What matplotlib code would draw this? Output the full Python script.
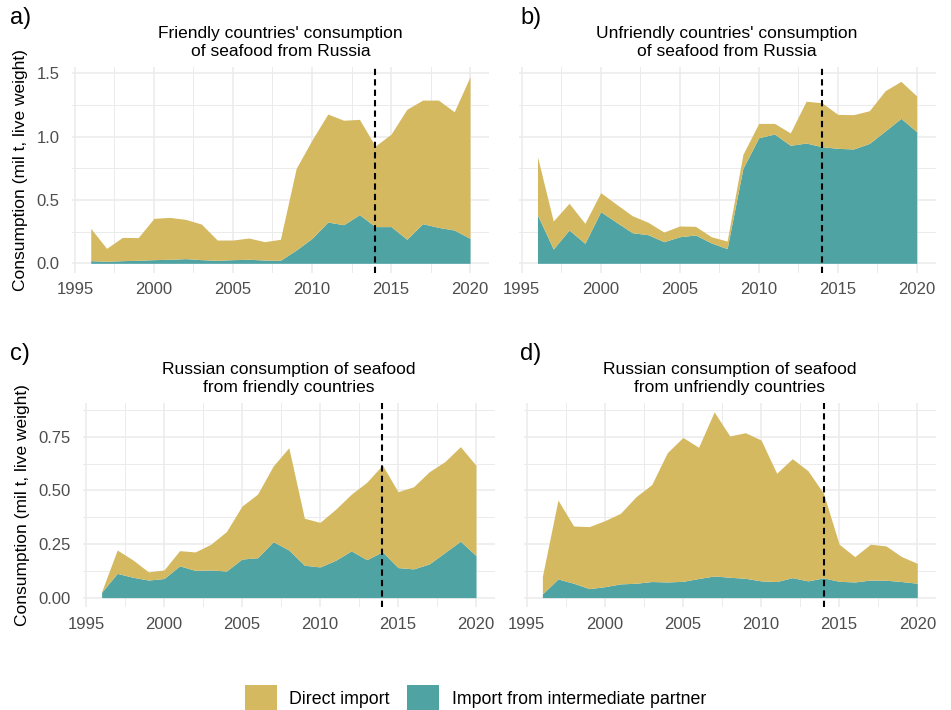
import numpy as np
import matplotlib
matplotlib.use("Agg")
import matplotlib.pyplot as plt
from matplotlib.patches import Patch
from matplotlib.ticker import MultipleLocator, FormatStrFormatter

plt.rcParams['font.family'] = ['Liberation Sans', 'DejaVu Sans']

years = list(range(1996, 2021))

# totals (direct + intermediate) and the intermediate part, mil t live weight
friendly_from_ru_total = [0.276, 0.118, 0.205, 0.203, 0.355, 0.363, 0.347, 0.310, 0.184, 0.184,
                          0.200, 0.171, 0.190, 0.750, 0.974, 1.179, 1.130, 1.137, 0.926, 1.020,
                          1.216, 1.289, 1.289, 1.197, 1.474]
friendly_from_ru_inter = [0.021, 0.016, 0.021, 0.024, 0.029, 0.032, 0.037, 0.029, 0.024, 0.029,
                          0.032, 0.026, 0.024, 0.105, 0.197, 0.326, 0.305, 0.384, 0.290, 0.290,
                          0.190, 0.313, 0.284, 0.263, 0.197]

unfriendly_from_ru_total = [0.842, 0.334, 0.474, 0.316, 0.558, 0.466, 0.376, 0.324, 0.247, 0.295,
                            0.292, 0.210, 0.176, 0.860, 1.105, 1.105, 1.030, 1.280, 1.268, 1.176,
                            1.174, 1.205, 1.363, 1.437, 1.321]
unfriendly_from_ru_inter = [0.382, 0.113, 0.263, 0.158, 0.408, 0.324, 0.242, 0.226, 0.171, 0.210,
                            0.224, 0.161, 0.116, 0.750, 0.992, 1.021, 0.932, 0.950, 0.921, 0.908,
                            0.903, 0.947, 1.045, 1.145, 1.039]

ru_from_friendly_total = [0.028, 0.222, 0.176, 0.120, 0.129, 0.219, 0.213, 0.249, 0.308, 0.427,
                          0.483, 0.614, 0.699, 0.370, 0.351, 0.412, 0.482, 0.538, 0.618, 0.494,
                          0.517, 0.587, 0.634, 0.704, 0.617]
ru_from_friendly_inter = [0.025, 0.113, 0.095, 0.082, 0.089, 0.148, 0.127, 0.129, 0.124, 0.180,
                          0.186, 0.261, 0.222, 0.151, 0.143, 0.174, 0.218, 0.177, 0.214, 0.140,
                          0.134, 0.157, 0.210, 0.263, 0.196]

ru_from_unfriendly_total = [0.098, 0.455, 0.334, 0.331, 0.359, 0.393, 0.471, 0.527, 0.676, 0.747,
                            0.701, 0.866, 0.754, 0.769, 0.735, 0.580, 0.648, 0.592, 0.486, 0.249,
                            0.191, 0.249, 0.241, 0.191, 0.160]
ru_from_unfriendly_inter = [0.017, 0.087, 0.067, 0.042, 0.051, 0.064, 0.067, 0.075, 0.073, 0.076,
                            0.089, 0.101, 0.095, 0.090, 0.078, 0.075, 0.093, 0.078, 0.092, 0.076,
                            0.073, 0.082, 0.081, 0.075, 0.067]

titles = ["Friendly countries' consumption\nof seafood from Russia",
          "Unfriendly countries' consumption\nof seafood from Russia",
          "Russian consumption of seafood\nfrom friendly countries",
          "Russian consumption of seafood\nfrom unfriendly countries"]
tags = ["a)", "b)", "c)", "d)"]
sanction_year = 2014

GOLD = "#D4B960"
TEAL = "#4FA3A3"
GRID = "#EBEBEB"

W, H = 951, 710
fig = plt.figure(figsize=(W / 100, H / 100), dpi=100)


def add_panel(l, t, r, b):
    return fig.add_axes([l / W, 1 - b / H, (r - l) / W, (b - t) / H])


panels = [
    (add_panel(71.8, 67.3, 489, 272.7), friendly_from_ru_total, friendly_from_ru_inter),
    (add_panel(518.5, 67.3, 935.7, 272.7), unfriendly_from_ru_total, unfriendly_from_ru_inter),
    (add_panel(82.9, 402.7, 494.7, 606.9), ru_from_friendly_total, ru_from_friendly_inter),
    (add_panel(523.6, 402.7, 936, 606.9), ru_from_unfriendly_total, ru_from_unfriendly_inter),
]

for i, (ax, total, inter) in enumerate(panels):
    total = np.array(total)
    inter = np.array(inter)
    ax.fill_between(years, 0, inter, color=TEAL, lw=0, zorder=2)
    ax.fill_between(years, inter, total, color=GOLD, lw=0, zorder=2)
    ax.axvline(sanction_year, color="black", lw=1.5, ls=(0, (3, 2)), zorder=3)

    ax.set_xlim(1994.8, 2021.2)
    ax.xaxis.set_major_locator(MultipleLocator(5))
    ax.xaxis.set_minor_locator(MultipleLocator(2.5))
    if i < 2:
        ax.set_ylim(-0.074, 1.548)
        ax.yaxis.set_major_locator(MultipleLocator(0.5))
        ax.yaxis.set_minor_locator(MultipleLocator(0.25))
        ax.yaxis.set_major_formatter(FormatStrFormatter("%.1f"))
    else:
        ax.set_ylim(-0.0433, 0.909)
        ax.yaxis.set_major_locator(MultipleLocator(0.25))
        ax.yaxis.set_minor_locator(MultipleLocator(0.125))
        ax.yaxis.set_major_formatter(FormatStrFormatter("%.2f"))

    ax.grid(which="major", color=GRID, lw=1.1, zorder=0)
    ax.grid(which="minor", color=GRID, lw=0.7, zorder=0)
    ax.set_axisbelow(True)
    for s in ax.spines.values():
        s.set_visible(False)
    ax.tick_params(which="both", length=0, labelsize=12, colors="#4D4D4D", pad=7)
    ax.tick_params(axis="y", pad=9)
    if i % 2 == 1:
        ax.tick_params(axis="y", labelleft=False)
    else:
        ax.set_ylabel("Consumption (mil t, live weight)", fontsize=12.5, labelpad=6)

    ax.set_title(titles[i], fontsize=12.5, pad=8, linespacing=1.25)
    pos = ax.get_position()
    tag_x = 10 / W if i % 2 == 0 else 520 / W
    fig.text(tag_x, pos.y1 + 49 / H, tags[i], fontsize=17, va="center", ha="left")

handles = [Patch(facecolor=GOLD, edgecolor="none", label="Direct import"),
           Patch(facecolor=TEAL, edgecolor="none", label="Import from intermediate partner")]
fig.legend(handles=handles, loc="center", bbox_to_anchor=(0.5, 1 - 698 / H), ncol=2,
           frameon=False, fontsize=12.8, handlelength=1.8, handleheight=1.8,
           columnspacing=1.0, handletextpad=0.7)

fig.savefig("out.png", dpi=100)
